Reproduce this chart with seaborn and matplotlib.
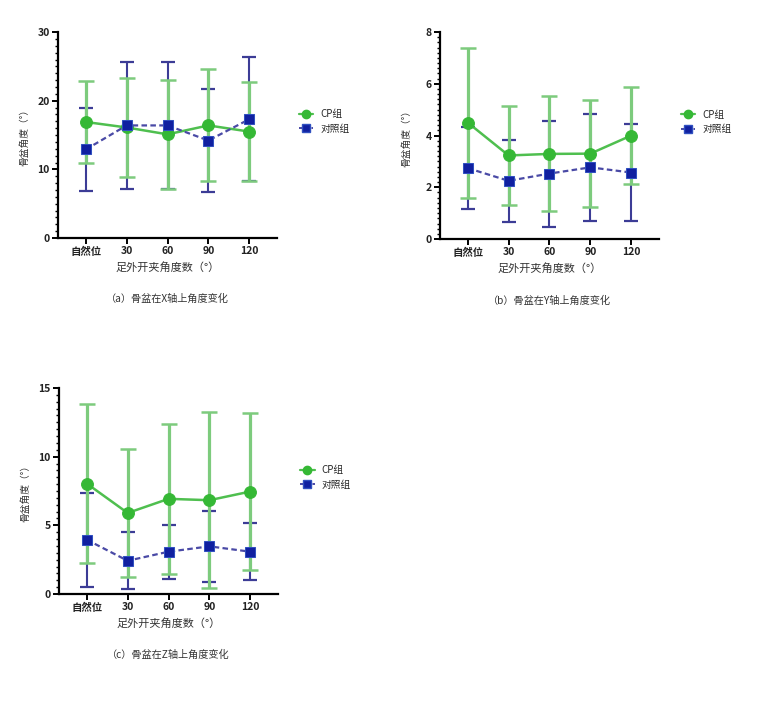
import matplotlib
matplotlib.use("Agg")
import matplotlib.pyplot as plt
import numpy as np
import pandas as pd
import seaborn as sns
from matplotlib.ticker import AutoMinorLocator, MultipleLocator
from matplotlib.lines import Line2D

# categories on the x axis
angles = ["自然位", "30", "60", "90", "120"]

# (a) X axis: mean and SD
x_cp_mean = [16.9, 16.1, 15.1, 16.4, 15.5]
x_cp_sd = [5.95, 7.15, 7.95, 8.15, 7.25]
x_ctrl_mean = [12.9, 16.4, 16.4, 14.2, 17.3]
x_ctrl_sd = [6.1, 9.2, 9.25, 7.5, 9.05]

# (b) Y axis
y_cp_mean = [4.50, 3.23, 3.29, 3.30, 4.00]
y_cp_sd = [2.90, 1.91, 2.22, 2.07, 1.87]
y_ctrl_mean = [2.74, 2.25, 2.53, 2.77, 2.57]
y_ctrl_sd = [1.59, 1.59, 2.05, 2.06, 1.86]

# (c) Z axis
z_cp_mean = [8.04, 5.90, 6.93, 6.83, 7.46]
z_cp_sd = [5.80, 4.66, 5.47, 6.41, 5.70]
z_ctrl_mean = [3.95, 2.42, 3.08, 3.47, 3.08]
z_ctrl_sd = [3.43, 2.07, 1.97, 2.60, 2.07]

group_names = ["CP组", "对照组"]
xlabel = "足外开夹角度数（°）"
ylabel = "骨盆角度（°）"
captions = ["（a）骨盆在X轴上角度变化", "（b）骨盆在Y轴上角度变化", "（c）骨盆在Z轴上角度变化"]

GREEN = "#35b835"
GREEN_LINE = "#4fbf4f"
GREEN_ERR = "#7dcb7d"
BLUE = "#1020a0"
BLUE_LINE = "#4a4aa6"
BLUE_ERR = "#3c3c96"

sns.set_theme(style="ticks")
plt.rcParams["font.family"] = ["Noto Sans CJK SC", "DejaVu Sans"]


def draw_panel(ax, cp_mean, cp_sd, ctrl_mean, ctrl_sd, ymax, major, minor_n, caption):
    pos = np.arange(len(angles))
    df = pd.DataFrame({
        "pos": np.concatenate([pos, pos]),
        "value": cp_mean + ctrl_mean,
        "group": [group_names[0]] * len(pos) + [group_names[1]] * len(pos),
    })

    # error bars first (control under CP, CP bars a bit thicker so they cover it)
    ax.errorbar(pos, ctrl_mean, yerr=ctrl_sd, fmt="none", ecolor=BLUE_ERR,
                elinewidth=1.5, capsize=5, capthick=1.6, zorder=1)
    ax.errorbar(pos, cp_mean, yerr=cp_sd, fmt="none", ecolor=GREEN_ERR,
                elinewidth=2.3, capsize=5.5, capthick=1.8, zorder=2)

    sns.lineplot(ax=ax, data=df[df["group"] == group_names[0]], x="pos", y="value",
                 color=GREEN_LINE, linewidth=1.8, marker="o", markersize=8.5,
                 markerfacecolor=GREEN, markeredgecolor=GREEN, zorder=3, legend=False)
    sns.lineplot(ax=ax, data=df[df["group"] == group_names[1]], x="pos", y="value",
                 color=BLUE_LINE, linewidth=1.6, linestyle=(0, (2.5, 1.5)), marker="s",
                 markersize=6.5, markerfacecolor=BLUE, markeredgecolor="#3050c0",
                 zorder=4, legend=False)

    ax.set_xlim(-0.68, len(angles) - 1 + 0.68)
    ax.set_ylim(0, ymax)
    ax.set_xticks(pos)
    ax.set_xticklabels(angles, fontsize=7.5, fontweight="bold", color="#222222")
    ax.yaxis.set_major_locator(MultipleLocator(major))
    ax.yaxis.set_minor_locator(AutoMinorLocator(minor_n))
    for lbl in ax.get_yticklabels():
        lbl.set_fontsize(7.5)
        lbl.set_fontweight("bold")
        lbl.set_color("#222222")
    ax.tick_params(axis="both", which="major", length=4, width=1.4, color="black", pad=2)
    ax.tick_params(axis="y", which="minor", length=2.2, width=1.0, color="black")
    sns.despine(ax=ax)
    for side in ("left", "bottom"):
        ax.spines[side].set_linewidth(1.6)
        ax.spines[side].set_color("black")

    ax.set_xlabel(xlabel, fontsize=8, color="#333333", labelpad=4)
    ax.set_ylabel(ylabel, fontsize=7, color="#333333")
    ax.yaxis.set_label_coords(-0.13, 0.5)
    ax.text(0.5, -0.296, caption, transform=ax.transAxes, ha="center", va="center",
            fontsize=7.3, color="#333333")

    handles = [
        Line2D([], [], color=GREEN_LINE, linewidth=1.6, marker="o", markersize=6,
               markerfacecolor=GREEN, markeredgecolor=GREEN),
        Line2D([], [], color=BLUE_LINE, linewidth=1.4, linestyle=(0, (2, 1.2)), marker="s",
               markersize=5.5, markerfacecolor=BLUE, markeredgecolor="#3050c0"),
    ]
    ax.legend(handles, group_names, loc="center left", bbox_to_anchor=(1.06, 0.565),
              frameon=False, fontsize=7, handlelength=1.5, handletextpad=0.7,
              labelspacing=0.45)


fig = plt.figure(figsize=(7.83, 7.2), dpi=100)
ax_a = fig.add_axes([0.0741, 0.6694, 0.2797, 0.2861])
ax_b = fig.add_axes([0.5619, 0.6680, 0.2797, 0.2875])
ax_c = fig.add_axes([0.0754, 0.1750, 0.2797, 0.2861])

draw_panel(ax_a, x_cp_mean, x_cp_sd, x_ctrl_mean, x_ctrl_sd, 30, 10, 10, captions[0])
draw_panel(ax_b, y_cp_mean, y_cp_sd, y_ctrl_mean, y_ctrl_sd, 8, 2, 10, captions[1])
draw_panel(ax_c, z_cp_mean, z_cp_sd, z_ctrl_mean, z_ctrl_sd, 15, 5, 10, captions[2])

fig.savefig("out.png", dpi=100)
plt.close(fig)
